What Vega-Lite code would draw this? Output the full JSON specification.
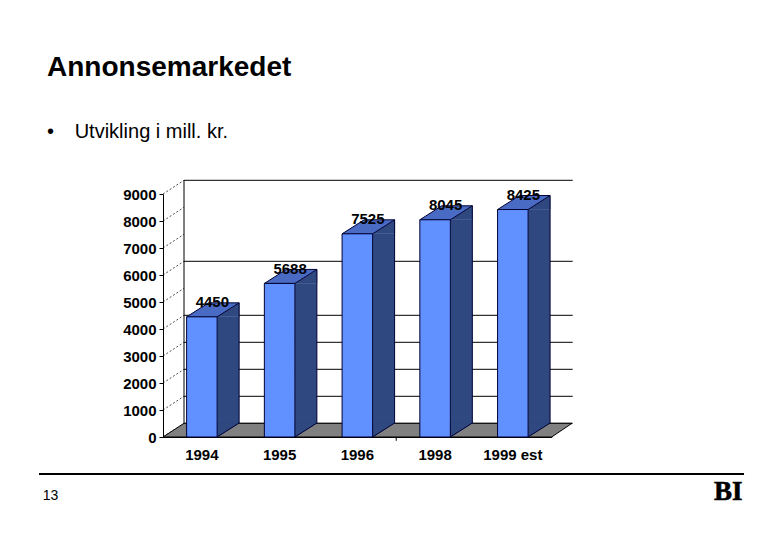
{
"$schema":"https://vega.github.io/schema/vega-lite/v6.json",
"width":388.7,"height":243,
"autosize":"none",
"padding":{"left":163,"top":194,"right":228.3,"bottom":103},
"background":"white",
"config":{"view":{"stroke":null},"font":"Liberation Sans","axisY":{"tickCount":10,"labelOverlap":false,"grid":false,"tickSize":4,"tickColor":"#000000","domainColor":"#000000","labelFontSize":15,"labelFontWeight":"bold","labelFont":"Liberation Sans","labelColor":"#000000","labelPadding":3,"format":"d"}},
"title":{"text":"Annonsemarkedet","subtitle":"•\u00a0\u00a0\u00a0\u2009Utvikling i mill. kr.","anchor":"start","frame":"group","dx":-116,"offset":37,"fontSize":28,"fontWeight":"bold","font":"Liberation Sans","color":"#000000","subtitleFontSize":20,"subtitleFont":"Liberation Sans","subtitleColor":"#000000","subtitlePadding":40,"align":"left"},
"datasets":{
"bars":[{"year":"1994","value":4450},{"year":"1995","value":5688},{"year":"1996","value":7525},{"year":"1998","value":8045},{"year":"1999 est","value":8425}],
"grid":[{"v":0},{"v":1000},{"v":2000},{"v":3000},{"v":4000},{"v":6000},{"v":9000}],
"ticks":[{"v":0},{"v":1000},{"v":2000},{"v":3000},{"v":4000},{"v":5000},{"v":6000},{"v":7000},{"v":8000},{"v":9000}],
"footer":[{"page":"13","logo":"BI"}]
},
"resolve":{"scale":{"x":"independent"},"axis":{"x":"independent"}},
"layer":[
{"layer":[
{"data":{"name":"footer"},"mark":{"type":"rule","color":"#000000","strokeWidth":2},
 "encoding":{"x":{"datum":-1.595,"type":"quantitative","scale":{"domain":[0,5]},"axis":null},"x2":{"datum":7.474},"y":{"datum":-1370,"type":"quantitative","title":null,"scale":{"domain":[0,9000],"nice":false}}}},
{"data":{"name":"footer"},"mark":{"type":"text","fontSize":14,"color":"#000000"},
 "encoding":{"text":{"field":"page"},"x":{"datum":-1.447,"type":"quantitative","scale":{"domain":[0,5]},"axis":null},"y":{"datum":-2185,"type":"quantitative","title":null,"scale":{"domain":[0,9000],"nice":false}}}},
{"data":{"name":"footer"},"mark":{"type":"text","fontSize":27,"font":"Liberation Serif","fontWeight":"bold","color":"#000000","stroke":"#000000","strokeWidth":0.6},
 "encoding":{"text":{"field":"logo"},"x":{"datum":7.27,"type":"quantitative","scale":{"domain":[0,5]},"axis":null},"y":{"datum":-2055,"type":"quantitative","title":null,"scale":{"domain":[0,9000],"nice":false}}}},
{"data":{"name":"ticks"},"mark":{"type":"point","shape":"M0 0L21 -13.7","size":4,"filled":false,"stroke":"#000000","strokeWidth":0.7,"strokeDash":[2,2],"opacity":1},
 "encoding":{"x":{"datum":0,"type":"quantitative","scale":{"domain":[0,5]},"axis":null},"y":{"field":"v","type":"quantitative","title":null,"scale":{"domain":[0,9000],"nice":false}}}},
{"data":{"name":"grid"},"mark":{"type":"rule","color":"#000000","strokeWidth":1,"xOffset":21,"x2Offset":21,"yOffset":-13.7},
 "encoding":{"x":{"datum":0,"type":"quantitative","scale":{"domain":[0,5]},"axis":null},"x2":{"datum":5},"y":{"field":"v","type":"quantitative","title":null,"scale":{"domain":[0,9000],"nice":false}}}},
{"data":{"name":"footer"},"mark":{"type":"rule","color":"#000000","strokeWidth":1,"xOffset":21,"x2Offset":21,"yOffset":-13.7,"y2Offset":-13.7},
 "encoding":{"x":{"datum":0,"type":"quantitative","scale":{"domain":[0,5]},"axis":null},"y":{"datum":0,"type":"quantitative","title":null,"scale":{"domain":[0,9000],"nice":false}},"y2":{"datum":9000}}},
{"data":{"name":"footer"},"mark":{"type":"point","shape":"M0 0L21 -13.7L409 -13.7L388.7 0Z","size":4,"filled":true,"fill":"#808080","stroke":"#000000","strokeWidth":1,"opacity":1},
 "encoding":{"x":{"datum":0,"type":"quantitative","scale":{"domain":[0,5]},"axis":null},"y":{"datum":0,"type":"quantitative","title":null,"scale":{"domain":[0,9000],"nice":false}}}},
{"data":{"name":"footer"},"mark":{"type":"rule","color":"#000000","strokeWidth":1},
 "encoding":{"x":{"datum":3,"type":"quantitative","scale":{"domain":[0,5]},"axis":null},"y":{"datum":0,"type":"quantitative","title":null,"scale":{"domain":[0,9000],"nice":false}},"y2":{"datum":-140}}}
]},
{"data":{"name":"bars"},"layer":[
{"mark":{"type":"bar","width":22,"xOffset":26.25,"y2Offset":-14,"fill":"#2F4880"},
 "encoding":{"x":{"field":"year","type":"nominal","sort":null,"scale":{"domain":["1994","1995","1996","1998","1999 est"],"padding":0},"title":null,
   "axis":{"labelAngle":0,"ticks":false,"domain":true,"domainColor":"#000000","labelFontSize":15,"labelFontWeight":"bold","labelFont":"Liberation Sans","labelColor":"#000000","labelPadding":10}},
  "y":{"field":"value","type":"quantitative","title":null,"scale":{"domain":[0,9000],"nice":false}},
  "y2":{"datum":0}}},
{"mark":{"type":"point","shape":"M15.25 0L37.25 -14L37.25 0Z","size":4,"filled":true,"fill":"#2F4880","stroke":"#2F4880","strokeWidth":0.6,"opacity":1},
 "encoding":{"x":{"field":"year","type":"nominal","sort":null,"scale":{"domain":["1994","1995","1996","1998","1999 est"],"padding":0},"title":null},"y":{"field":"value","type":"quantitative","title":null,"scale":{"domain":[0,9000],"nice":false}}}},
{"mark":{"type":"point","shape":"M15.25 0L37.25 -14L15.25 -14Z","size":4,"filled":true,"fill":"#2F4880","stroke":"#2F4880","strokeWidth":0.6,"opacity":1},
 "encoding":{"x":{"field":"year","type":"nominal","sort":null,"scale":{"domain":["1994","1995","1996","1998","1999 est"],"padding":0},"title":null},"y":{"datum":0,"type":"quantitative","title":null,"scale":{"domain":[0,9000],"nice":false}}}},
{"mark":{"type":"point","shape":"M15.25 0L37.25 -14","size":4,"filled":false,"stroke":"#000033","strokeWidth":1,"opacity":1},
 "encoding":{"x":{"field":"year","type":"nominal","sort":null,"scale":{"domain":["1994","1995","1996","1998","1999 est"],"padding":0},"title":null},"y":{"datum":0,"type":"quantitative","title":null,"scale":{"domain":[0,9000],"nice":false}}}},
{"mark":{"type":"rule","color":"#000033","strokeWidth":1,"xOffset":37.25,"yOffset":-14,"y2Offset":-14},
 "encoding":{"x":{"field":"year","type":"nominal","sort":null,"scale":{"domain":["1994","1995","1996","1998","1999 est"],"padding":0},"title":null},"y":{"field":"value","type":"quantitative","title":null,"scale":{"domain":[0,9000],"nice":false}},"y2":{"datum":0}}},
{"mark":{"type":"point","shape":"M-15.25 0L6.75 -14L37.25 -14L15.25 0Z","size":4,"filled":true,"fill":"#4A6BC4","stroke":"#000033","strokeWidth":1,"opacity":1},
 "encoding":{"x":{"field":"year","type":"nominal","sort":null,"scale":{"domain":["1994","1995","1996","1998","1999 est"],"padding":0},"title":null},"y":{"field":"value","type":"quantitative","title":null,"scale":{"domain":[0,9000],"nice":false}}}},
{"mark":{"type":"bar","width":{"band":0.3925},"fill":"#6190FF","stroke":"#000033","strokeWidth":1},
 "encoding":{"x":{"field":"year","type":"nominal","sort":null,"scale":{"domain":["1994","1995","1996","1998","1999 est"],"padding":0},"title":null},"y":{"field":"value","type":"quantitative","title":null,"scale":{"domain":[0,9000],"nice":false}},"y2":{"datum":0}}},
{"mark":{"type":"text","dx":10.5,"dy":-14.5,"fontSize":15,"fontWeight":"bold","font":"Liberation Sans","color":"#000000"},
 "encoding":{"text":{"field":"value","type":"quantitative","format":"d"},"x":{"field":"year","type":"nominal","sort":null,"scale":{"domain":["1994","1995","1996","1998","1999 est"],"padding":0},"title":null},"y":{"field":"value","type":"quantitative","title":null,"scale":{"domain":[0,9000],"nice":false}}}}
]}
]
}
